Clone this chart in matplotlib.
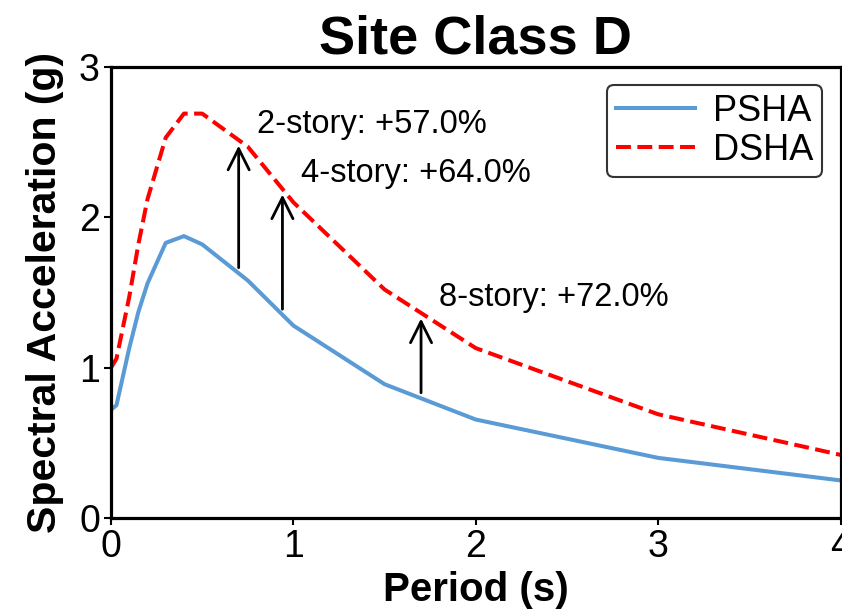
import matplotlib
matplotlib.use("Agg")
import matplotlib.pyplot as plt
import numpy as np

# Spectral values (Site Class D)
period = [0.0, 0.03, 0.1, 0.15, 0.2, 0.3, 0.4, 0.5, 0.75, 1.0, 1.5, 2.0, 3.0, 4.0]
psha = [0.72, 0.75, 1.13, 1.37, 1.56, 1.83, 1.875, 1.82, 1.58, 1.28, 0.89, 0.655, 0.40, 0.25]
dsha = [1.00, 1.06, 1.47, 1.82, 2.12, 2.53, 2.69, 2.69, 2.47, 2.10, 1.52, 1.13, 0.69, 0.42]

# building periods with the DSHA/PSHA increase
bld_period = [0.7, 0.94, 1.7]
bld_label = ["2-story: +57.0%", "4-story: +64.0%", "8-story: +72.0%"]

plt.rcParams.update({
    "font.family": ["Liberation Sans", "DejaVu Sans"],
    "xtick.labelsize": 27,
    "ytick.labelsize": 27,
    "xtick.major.size": 5,
    "ytick.major.size": 5,
    "xtick.major.width": 1.5,
    "ytick.major.width": 1.5,
    "xtick.major.pad": 3,
    "ytick.major.pad": 3,
    "axes.linewidth": 2.3,
})

fig = plt.figure(figsize=(8.42, 6.15), dpi=100)
ax = fig.add_axes([111 / 842, 1 - 518 / 615, (840.5 - 111) / 842, (518 - 67) / 615])

ax.plot(period, psha, color="#5B9BD5", lw=2.9, label="PSHA")
ax.plot(period, dsha, color="red", lw=2.9, ls="--", label="DSHA")

for T, lab in zip(bld_period, bld_label):
    y0 = np.interp(T, period, psha)
    y1 = np.interp(T, period, dsha)
    ax.annotate("", xy=(T, y1), xytext=(T, y0),
                arrowprops=dict(arrowstyle="->", color="black", lw=2,
                                mutation_scale=38, shrinkA=4, shrinkB=4))
    ax.text(T + 0.1, y1, lab, fontsize=23.5, va="bottom", ha="left")

ax.set_xlim(0, 4)
ax.set_ylim(0, 3)
ax.set_xticks([0, 1, 2, 3, 4])
ax.set_yticks([0, 1, 2, 3])
ax.set_xlabel("Period (s)", fontsize=29, fontweight="bold", labelpad=4)
ax.set_ylabel("Spectral Acceleration (g)", fontsize=29.5, fontweight="bold", labelpad=11)
ax.set_title("Site Class D", fontsize=39, fontweight="bold", pad=10)

leg = ax.legend(loc="upper right", fontsize=26, frameon=True, edgecolor="black",
                framealpha=0.8, borderpad=0.25, labelspacing=0.1,
                handletextpad=0.5, handlelength=2.2, borderaxespad=0.5)
leg.get_frame().set_linewidth(1.5)

fig.savefig("out.png", dpi=100)
